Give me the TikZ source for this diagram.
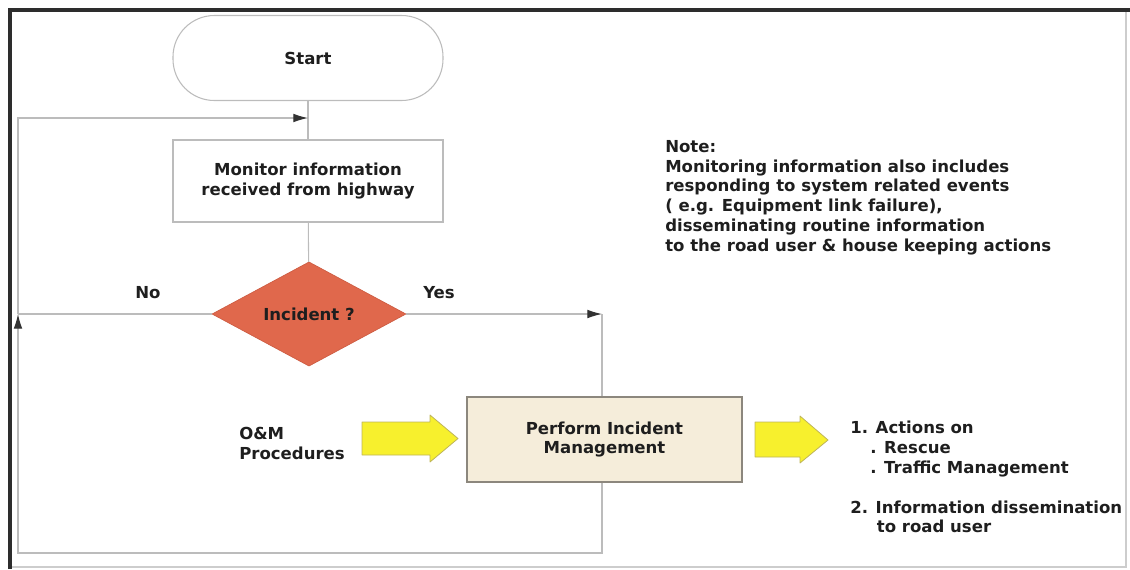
\documentclass[tikz,border=0pt]{standalone}
\usepackage{fontspec}
\setmainfont{DejaVu Sans}
\usetikzlibrary{arrows.meta,shapes.geometric}

\definecolor{linegray}{RGB}{188,188,188}
\definecolor{tipdark}{RGB}{50,50,50}
\definecolor{inkdark}{RGB}{30,30,30}
\definecolor{decisionred}{RGB}{224,104,76}
\definecolor{decisionedge}{RGB}{205,92,66}
\definecolor{taskbeige}{RGB}{245,237,218}
\definecolor{taskedge}{RGB}{140,135,125}
\definecolor{blockyellow}{RGB}{247,240,45}
\definecolor{blockedge}{RGB}{190,180,90}
\definecolor{framedark}{RGB}{45,45,45}
\definecolor{framelight}{RGB}{205,205,205}

\begin{document}
\begin{tikzpicture}[x=0.75pt,y=-0.75pt,
  font=\fontsize{12.4pt}{14.85pt}\selectfont\bfseries,
  every node/.style={text=inkdark},
  flowline/.style={draw=linegray,line width=0.8pt},
  tipped/.style={flowline,-{Latex[length=11pt,width=6.5pt,color=tipdark]}},
  terminal/.style={draw=linegray,line width=0.8pt,rounded corners=31pt,
    minimum width=202.5pt,minimum height=63.75pt},
  process/.style={draw=linegray,line width=0.8pt,minimum width=202.5pt,
    minimum height=61.5pt,align=center},
  decision/.style={diamond,fill=decisionred,draw=decisionedge,line width=0.5pt,
    minimum width=145.5pt,minimum height=73.5pt,inner sep=0pt},
  task/.style={fill=taskbeige,draw=taskedge,line width=0.8pt,
    minimum width=206.25pt,minimum height=63.75pt,align=center},
  textblock/.style={inner sep=0pt,align=left},
  blockarrow/.style={fill=blockyellow,draw=blockedge,line width=0.6pt,line join=round}
]
\useasboundingbox (0,0) rectangle (1130,569);

% page frame
\draw[framelight,line width=0.8pt] (10,10) -- (1126,10) -- (1126,567) -- (10,567);
\draw[framedark,line width=2.4pt] (10,569) -- (10,10) -- (1130,10);

% flow elements
\node[terminal] (start) at (308,58) {Start};
\node[process] (monitor) at (308,181) {Monitor information\\received from highway};
\node[decision] (incident) at (309,314) {Incident ?};
\node[task] (perform) at (604.5,439.5) {Perform Incident\\Management};

% branch labels and side texts
\node[textblock] (no) at (148,293) {No};
\node[textblock] (yes) at (439,293) {Yes};
\node[textblock,anchor=north west] (note) at (665,140) {Note:\\
Monitoring information also includes\\
responding to system related events\\
( e.g. Equipment link failure),\\
disseminating routine information\\
to the road user \& house keeping actions};
\node[textblock,anchor=north west] (om) at (239,427) {O\&M\\Procedures};
\node[textblock,anchor=north west] (actions) at (850,421) {1. Actions on\\
\hspace*{15pt}. Rescue\\
\hspace*{15pt}. Traffic Management\\[14.85pt]
2. Information dissemination\\
\hspace*{20pt}to road user};

% routing points
\coordinate (join) at (308,118);
\coordinate (ycorner) at (602,314);
\coordinate (ncorner) at (18,314);
\coordinate (bcorner) at (602,553);
\coordinate (lcorner) at (18,553);
\coordinate (tcorner) at (18,118);

% connectors
\draw[flowline] (start) -- (monitor);
\draw[flowline] (monitor) -- (incident);
\draw[tipped] (incident.east) -- (ycorner);
\draw[flowline] (ycorner) -- (ycorner |- perform.north);
\draw[tipped] (ycorner |- perform.south) -- (bcorner) -- (lcorner) -- (ncorner);
\draw[flowline] (incident.west) -- (ncorner);
\draw[tipped] (ncorner) -- (tcorner) -- (join);

% block arrows
\filldraw[blockarrow] (362,422) -- (430,422) -- (430,415) -- (458,438.5)
  -- (430,462) -- (430,455) -- (362,455) -- cycle;
\filldraw[blockarrow] (755,422) -- (800,422) -- (800,416) -- (828,440)
  -- (800,463) -- (800,457) -- (755,457) -- cycle;
\end{tikzpicture}
\end{document}
